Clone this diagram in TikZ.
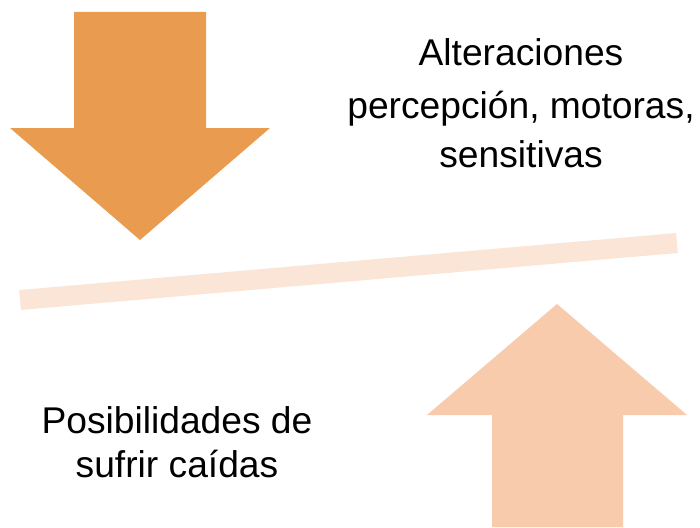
\documentclass[tikz,border=0pt]{standalone}
\usepackage{fontspec}
\setmainfont{Liberation Sans}
\definecolor{darkorange}{HTML}{E99B4F}
\definecolor{lightorange}{HTML}{F8CBAD}
\definecolor{barcolor}{HTML}{FBE5D6}
\tikzset{
  txt/.style={anchor=base, inner sep=0pt, font=\fontsize{37.2}{40}\selectfont, text=black},
}
\begin{document}
\begin{tikzpicture}[x=1pt,y=-1pt]
\useasboundingbox (0,0) rectangle (700,527);
% down arrow
\fill[darkorange] (74,12) -- (206,12) -- (206,128) -- (270,128) -- (140,240) -- (10,128) -- (74,128) -- cycle;
% tilted bar
\coordinate (barL) at (20,300);
\coordinate (barR) at (677,243);
\draw[barcolor, line width=20pt, line cap=butt] (barL) -- (barR);
% up arrow
\fill[lightorange] (557,304) -- (687,415) -- (623,415) -- (623,527) -- (492,527) -- (492,415) -- (427,415) -- cycle;
% texts
\node[txt] (t1) at (521,65) {Alteraciones};
\node[txt] (t2) at (521,118) {percepción, motoras,};
\node[txt] (t3) at (521,167) {sensitivas};
\node[txt] (b1) at (177,433) {Posibilidades de};
\node[txt] (b2) at (177,477) {sufrir caídas};
\end{tikzpicture}
\end{document}
